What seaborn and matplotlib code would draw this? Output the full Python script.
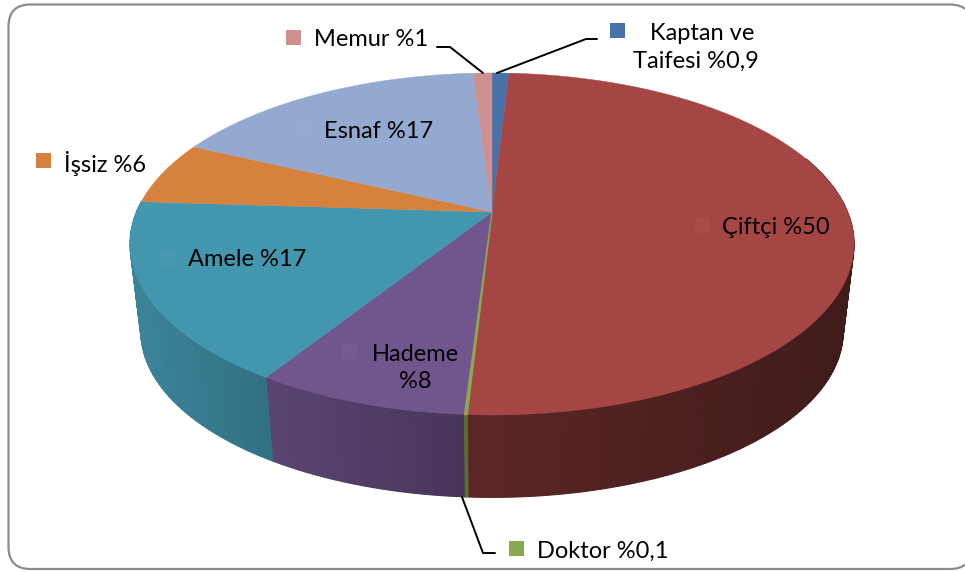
import numpy as np
import seaborn as sns
import matplotlib.pyplot as plt
from matplotlib.patches import FancyBboxPatch
from matplotlib.colors import to_rgb

sns.set_theme(style='white')
plt.rcParams['font.family'] = ['Lato', 'DejaVu Sans']

# clockwise from the top
names = ['\u00a0\u00a0Kaptan ve\nTaifesi %0,9', 'Çiftçi %50', 'Doktor %0,1', 'Hademe\n%8',
         'Amele %17', 'İşsiz %6', 'Esnaf %17', 'Memur %1']
shares = [0.9, 50, 0.1, 8, 17, 6, 17, 1]
top_colors = ['#4672A8', '#A64644', '#8AA84E', '#71568E',
              '#4296AE', '#D7823C', '#93A9CF', '#CF8F8E']
# side brightness at the left and right end of the visible wall
side_shade = [(.6, .6), (.55, .38), (.65, .65), (.8, .62),
              (.88, .75), (.8, .8), (.8, .8), (.8, .8)]

# perspective of the disc, in pixels of the picture
K, A, C = 0.187, 165, 355.6
CX, TOP_Y, BOTTOM_Y, BOTTOM_SCALE = 492, 212, 300.5, 0.97


def rim(theta, base_y=TOP_Y, scale=1.0):
    X, Y = np.sin(theta), np.cos(theta)
    d = 1 + K * Y
    return CX + scale * C * X / d, base_y - scale * A * Y / d


def mix_white(col, w):
    return tuple(c + (1 - c) * w for c in to_rgb(col))


fig = plt.figure(figsize=(9.65, 5.72), dpi=100)
ax = fig.add_axes([0, 0, 1, 1])
ax.set_xlim(0, 965)
ax.set_ylim(572, 0)
ax.axis('off')

ax.add_patch(FancyBboxPatch((8.5, 4.5), 963.5, 564.5, boxstyle='round,pad=0,rounding_size=22',
                            fc='white', ec='#8c8c8c', lw=1.6))

edges = 2 * np.pi * np.cumsum([0] + shares) / sum(shares)

# side wall, cut in strips so it can carry the shading
for i in range(len(shares)):
    if edges[i + 1] < np.pi / 2 or edges[i] > 3 * np.pi / 2:
        continue
    a, b = max(edges[i], np.pi / 2 - 0.35), min(edges[i + 1], 3 * np.pi / 2 + 0.1)
    n = max(1, int(shares[i] * 2.5))
    th = np.linspace(a, b, n + 1)
    xs = rim(th)[0]
    base = np.array(to_rgb(top_colors[i]))
    for j in range(n):
        t = np.linspace(th[j], th[j + 1], 8)
        x1, y1 = rim(t)
        x2, y2 = rim(t, BOTTOM_Y, BOTTOM_SCALE)
        shade = np.interp((xs[j] + xs[j + 1]) / 2, [xs.min(), xs.max()], side_shade[i])
        lw = 0.9 if shares[i] < 0.5 else 0.8
        ax.fill(np.r_[x1, x2[::-1]], np.r_[y1, y2[::-1]], color=base * shade, lw=lw,
                zorder=2 + (shares[i] < 0.5))

# top face
for i in range(len(shares)):
    t = np.linspace(edges[i], edges[i + 1], max(3, int(shares[i] * 8)))
    x, y = rim(t)
    lw = 0.9 if shares[i] < 0.5 else 0.3
    ax.fill(np.r_[CX, x], np.r_[TOP_Y, y], color=top_colors[i], lw=lw, zorder=4 + (shares[i] < 0.5))

# leader lines
ax.plot([437, 450, 483], [47, 47, 73], color='black', lw=1.4, zorder=6)
ax.plot([497, 586, 597], [73, 39, 39], color='black', lw=1.4, zorder=6)
ax.plot([462, 483, 495], [497, 553, 553], color='black', lw=1.4, zorder=6)

# labels: key square centre, text anchor
key_pos = [(617, 30), (702, 225), (516, 548), (349, 351), (167, 258), (43, 160), (303, 128), (293, 37)]
text_pos = [(696, 47, 'center'), (722, 227, 'left'), (537, 551, 'left'), (415, 368, 'center'),
            (188, 260, 'left'), (64, 164, 'left'), (324, 131, 'left'), (314, 39, 'left')]
on_pie = [False, True, False, True, True, False, True, False]

for i, name in enumerate(names):
    col = mix_white(top_colors[i], 0.025) if on_pie[i] else top_colors[i]
    ax.plot(*key_pos[i], marker='s', ms=10.8, mew=0, color=col, zorder=7)
    ax.text(text_pos[i][0], text_pos[i][1], name, ha=text_pos[i][2], va='center', ma='center',
            fontsize=17, color='black', linespacing=1.4, zorder=8)

fig.savefig('out.png', dpi=100)
plt.close(fig)
